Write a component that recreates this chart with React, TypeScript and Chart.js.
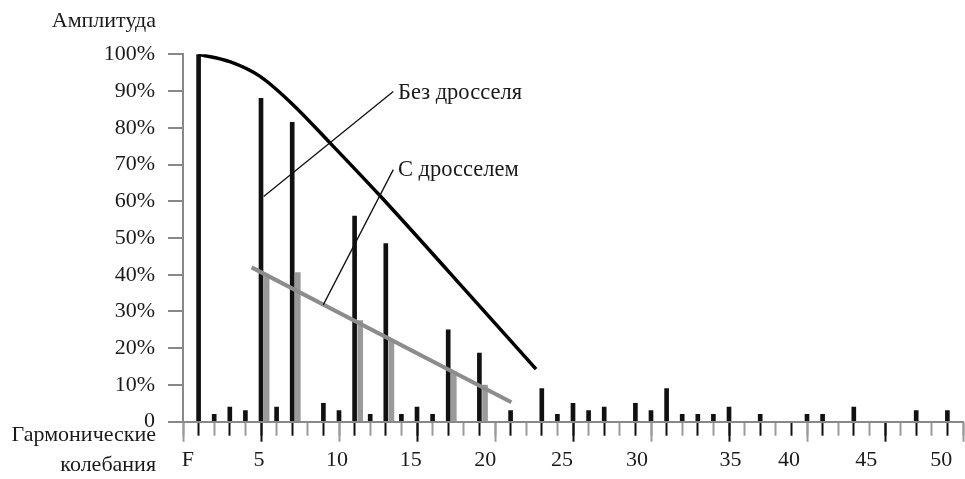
import React, { useEffect, useRef } from 'react';
import { Chart, registerables } from 'chart.js';

Chart.register(...registerables);

// ---- data ----
const BLACK_HARMONICS = [1, 2, 3, 4, 5, 6, 7, 9, 10, 11, 12, 13, 14, 15, 16, 17, 19, 21, 23, 24, 25, 26, 27, 29, 30, 31, 32, 33, 34, 35, 37, 40, 41, 43, 47, 49];
const BLACK_AMPLITUDES = [100, 2, 4, 3, 88, 4, 81.5, 5, 3, 56, 2, 48.5, 2, 4, 2, 25, 18.7, 3, 9, 2, 5, 3, 4, 5, 3, 9, 2, 2, 2, 4, 2, 2, 2, 4, 3, 3];

const GRAY_HARMONICS = [5, 7, 11, 13, 17, 19];
const GRAY_AMPLITUDES = [39.5, 40.6, 27.5, 22.3, 13.6, 10];

const CURVE_X = [1, 3, 4.94, 7, 9.42, 12.63, 17, 22.63];
const CURVE_Y = [100, 98, 94, 86.5, 75.9, 61.5, 41, 14.3];

const GRAY_LINE_X = [4.4, 21.05];
const GRAY_LINE_Y = [42, 5.3];

const LEADER1_X = [5.17, 13.48];
const LEADER1_Y = [61.3, 89.9];
const LEADER2_X = [8.99, 13.48];
const LEADER2_Y = [31.8, 68.6];

const ANNOT_TEXT = ['Без дросселя', 'С дросселем'];
const ANNOT_X = [13.78, 13.78];
const ANNOT_Y = [89.5, 68.6];

const X_TICK_LABELS = ['F', '5', '10', '15', '20', '25', '30', '35', '40', '45', '50'];
const X_TICK_POS = [0.32, 4.87, 9.87, 14.6, 19.37, 24.3, 29.1, 35.1, 38.85, 43.8, 48.6];

const Y_TITLE = 'Амплитуда';
const X_TITLE = ['Гармонические', 'колебания'];

const GRAY_SHIFT = 0.36;
const FONT = '"Liberation Serif", "Times New Roman", serif';
const TEXT_COLOR = '#1a1a1a';

const toPoints = (xs: number[], ys: number[], shift = 0) => xs.map((x, i) => ({ x: x + shift, y: ys[i] }));

const textPlugin = {
  id: 'texts',
  afterDraw(chart: any) {
    const { ctx, chartArea, scales } = chart;
    ctx.save();
    ctx.fillStyle = TEXT_COLOR;
    ctx.font = `22.5px ${FONT}`;
    ctx.textBaseline = 'middle';
    ctx.textAlign = 'left';
    ANNOT_TEXT.forEach((t, i) => {
      ctx.fillText(t, scales.x.getPixelForValue(ANNOT_X[i]), scales.y.getPixelForValue(ANNOT_Y[i]));
    });
    ctx.font = `22px ${FONT}`;
    ctx.textAlign = 'right';
    ctx.fillText(Y_TITLE, chartArea.left - 27, chartArea.top - 33);
    ctx.fillText(X_TITLE[0], chartArea.left - 27, chartArea.bottom + 14);
    ctx.fillText(X_TITLE[1], chartArea.left - 27, chartArea.bottom + 44);
    ctx.restore();
  },
};

const tickColor = (c: any) => (Math.round(c.tick.value) % 2 ? '#111' : '#9a9a9a');

export default function App() {
  const ref = useRef<HTMLCanvasElement | null>(null);

  useEffect(() => {
    if (!ref.current) return;
    const lineBase = { type: 'line' as const, pointRadius: 0, fill: false, order: 0 };
    const chart = new Chart(ref.current, {
      type: 'bar',
      data: {
        datasets: [
          { ...lineBase, data: toPoints(LEADER1_X, LEADER1_Y), borderColor: '#111', borderWidth: 1.3 },
          { ...lineBase, data: toPoints(LEADER2_X, LEADER2_Y), borderColor: '#111', borderWidth: 1.3 },
          { ...lineBase, data: toPoints(CURVE_X, CURVE_Y), borderColor: '#000', borderWidth: 3.5, cubicInterpolationMode: 'monotone' },
          { ...lineBase, data: toPoints(GRAY_LINE_X, GRAY_LINE_Y), borderColor: '#8c8c8c', borderWidth: 4 },
          { type: 'bar', data: toPoints(GRAY_HARMONICS, GRAY_AMPLITUDES, GRAY_SHIFT), backgroundColor: '#9a9a9a', barThickness: 5, grouped: false, order: 2 },
          { type: 'bar', data: toPoints(BLACK_HARMONICS, BLACK_AMPLITUDES), backgroundColor: '#111', barThickness: 4, grouped: false, order: 1 },
        ] as any,
      },
      options: {
        animation: false,
        responsive: false,
        maintainAspectRatio: false,
        layout: { padding: { top: 54.3, right: 2, left: 0, bottom: 0 } },
        plugins: { legend: { display: false }, tooltip: { enabled: false } },
        scales: {
          x: {
            type: 'linear', position: 'bottom', min: 0, max: 50, offset: false, weight: 0,
            ticks: { display: false, stepSize: 1 },
            grid: { offset: false, drawOnChartArea: false, tickLength: 14, tickWidth: 2, tickColor },
            border: { display: true, color: '#888', width: 2 },
            afterFit: (s: any) => { s.height = 0; },
          },
          x2: {
            type: 'linear', axis: 'x', position: 'bottom', min: 0, max: 50, offset: false, weight: 1,
            ticks: { display: false, stepSize: 5 },
            grid: { offset: false, drawOnChartArea: false, tickLength: 20, tickWidth: 2, tickColor },
            border: { display: false },
            afterFit: (s: any) => { s.height = 0; },
          },
          xl: {
            type: 'linear', axis: 'x', position: 'bottom', min: 0, max: 50, offset: false, weight: 2,
            afterBuildTicks: (s: any) => { s.ticks = X_TICK_POS.map((v) => ({ value: v })); },
            ticks: {
              autoSkip: false, maxRotation: 0, minRotation: 0, padding: 0, color: TEXT_COLOR,
              font: { family: FONT, size: 22 },
              callback: (_v: any, i: number) => X_TICK_LABELS[i],
            },
            grid: { display: false, drawTicks: true, tickLength: 25 },
            border: { display: false },
            afterFit: (s: any) => { s.height = 479 - 421.7; },
          },
          y: {
            type: 'linear', position: 'left', min: 0, max: 100,
            ticks: {
              stepSize: 10, padding: 13, color: TEXT_COLOR,
              font: { family: FONT, size: 22 },
              callback: (v: any) => (Number(v) === 0 ? '0' : `${v}%`),
            },
            grid: { drawOnChartArea: false, tickLength: 15, lineWidth: 2, color: '#888' },
            border: { color: '#888', width: 2 },
            afterFit: (s: any) => { s.width = 183; },
          },
        },
      } as any,
      plugins: [textPlugin],
    });
    return () => chart.destroy();
  }, []);

  return (
    <div style={{ position: 'fixed', left: 0, top: 0, width: 965, height: 479, background: '#fff' }}>
      <canvas ref={ref} width={965} height={479} style={{ display: 'block' }} />
    </div>
  );
}
